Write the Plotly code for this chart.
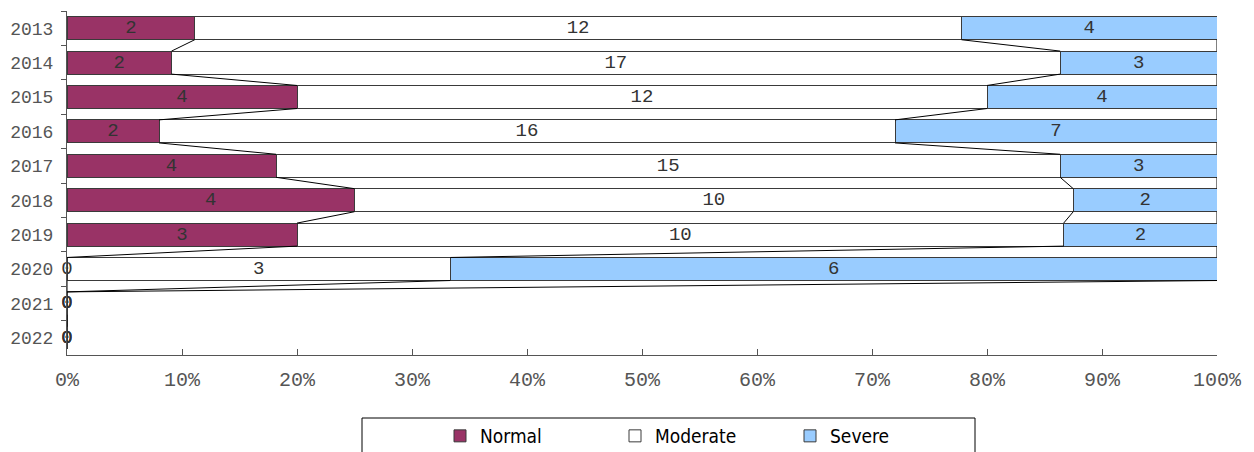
import plotly.graph_objects as go

years = ["2013", "2014", "2015", "2016", "2017", "2018", "2019", "2020", "2021", "2022"]
normal = [2, 2, 4, 2, 4, 4, 3, 0, 0, 0]
moderate = [12, 17, 12, 16, 15, 10, 10, 3, 0, 0]
severe = [4, 3, 4, 7, 3, 2, 2, 6, 0, 0]
series_names = ["Normal", "Moderate", "Severe"]
colors = ["#993366", "#FFFFFF", "#99CCFF"]

OFF = 8  # page body margin
W, H = 1254 - OFF, 452 - OFF
L, T = 67 - OFF, 11 - OFF
pw, ph = 1150, 344
R, B = W - L - pw, H - T - ph

series = [normal, moderate, severe]
totals = [sum(v) for v in zip(*series)]
pcts = [[(v / t * 100 if t else 0) for v, t in zip(s, totals)] for s in series]

fig = go.Figure()
MONO = "Liberation Mono, Courier New, monospace"

for name, vals, pc, col in zip(series_names, series, pcts, colors):
    fig.add_trace(go.Bar(
        y=years, x=pc, name=name, orientation="h",
        marker=dict(color=col, line=dict(color="#3a3a3a", width=1)),
        text=[str(v) if v else "" for v in vals],
        texttemplate="%{text}", textposition="inside", insidetextanchor="middle",
        textangle=0, textfont=dict(family=MONO, size=19, color="#333333"),
        constraintext="none", hoverinfo="x+y+name",
    ))

# cumulative boundaries
cums = []
acc = [0] * len(years)
starts = []
for pc in pcts:
    starts.append(acc[:])
    acc = [a + p for a, p in zip(acc, pc)]
    cums.append(acc[:])

half = 0.335
lx, ly = [], []
for c in cums:
    for i in range(len(years) - 1):
        lx += [c[i], c[i + 1], None]
        ly += [i + half, i + 1 - half, None]
fig.add_trace(go.Scatter(x=lx, y=ly, mode="lines", yaxis="y2",
                         line=dict(color="#000000", width=1),
                         showlegend=False, hoverinfo="skip"))

# zero labels
zx, zy = [], []
for vals, st in zip(series, starts):
    for i, v in enumerate(vals):
        if v == 0:
            zx.append(st[i]); zy.append(i)
fig.add_trace(go.Scatter(x=zx, y=zy, mode="text", text=["0"] * len(zx), yaxis="y2",
                         textfont=dict(family=MONO, size=19, color="#333333"),
                         showlegend=False, hoverinfo="skip", cliponaxis=False))

# page pixel -> paper coords
def px_x(p):
    return (p - OFF - L) / pw

def px_y(p):
    return (T + ph - (p - OFF)) / ph

fig.add_shape(type="rect", xref="paper", yref="paper",
              x0=px_x(362), x1=px_x(975), y0=px_y(418), y1=px_y(470),
              line=dict(color="#000000", width=1), fillcolor="rgba(0,0,0,0)")

fig.update_layout(
    width=W, height=H, margin=dict(l=L, r=R, t=T, b=B, autoexpand=False),
    paper_bgcolor="white", plot_bgcolor="white",
    barmode="stack", bargap=0.33,
    showlegend=True,
    legend=dict(orientation="h", x=px_x(440), xanchor="left", y=px_y(436), yanchor="middle",
                font=dict(family="Liberation Sans Narrow, Arial Narrow, DejaVu Sans Condensed, sans-serif",
                          size=19, color="#000000"),
                bgcolor="rgba(0,0,0,0)", itemwidth=30,
                entrywidth=130, entrywidthmode="pixels", traceorder="normal"),
    xaxis=dict(range=[0, 100], dtick=10, ticksuffix="%", showgrid=False, zeroline=False,
               showline=True, linecolor="#555555", linewidth=1, automargin=False,
               ticks="inside", ticklen=6, tickcolor="#555555", ticklabelstandoff=6,
               tickfont=dict(family=MONO, size=20, color="#555555"), fixedrange=True),
    yaxis=dict(type="category", categoryorder="array", categoryarray=years,
               range=[9.5, -0.5], showgrid=False, zeroline=False, automargin=False,
               showline=True, linecolor="#555555", linewidth=1,
               ticks="outside", ticklen=5, tickcolor="#555555", tickson="boundaries",
               tickfont=dict(family=MONO, size=18, color="#555555"), ticklabelstandoff=9),
    yaxis2=dict(overlaying="y", range=[9.5, -0.5], visible=False, showgrid=False),
    hovermode="closest",
)

fig.write_html("out.html")
